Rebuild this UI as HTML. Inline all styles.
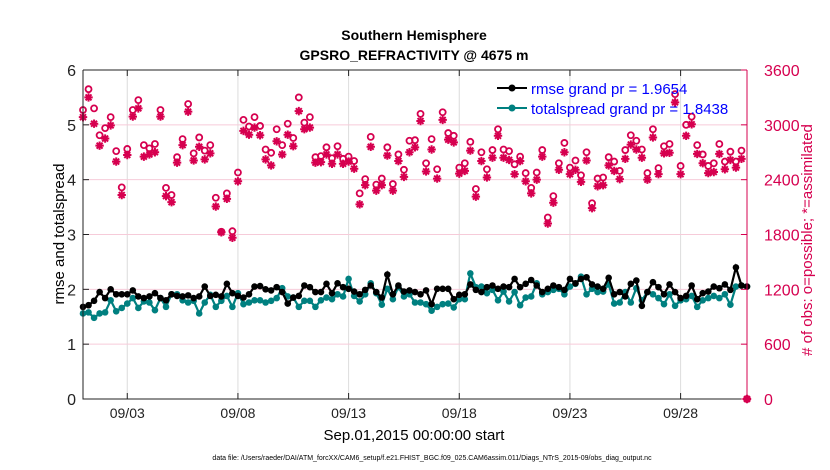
<!DOCTYPE html>
<html><head><meta charset="utf-8">
<style>
html,body{margin:0;padding:0;background:#fff;}
svg{display:block;font-family:"Liberation Sans",Arial,sans-serif;}
</style></head>
<body>
<svg id="chart" width="830" height="470" viewBox="0 0 830 470" xmlns="http://www.w3.org/2000/svg">
<rect width="830" height="470" fill="#fff"/>
<text x="414" y="40" text-anchor="middle" font-size="14" font-weight="bold">Southern Hemisphere</text>
<text x="414" y="60" text-anchor="middle" font-size="14" font-weight="bold">GPSRO_REFRACTIVITY @ 4675 m</text>
<g id="grid"></g>
<g id="marks"></g>
<g id="axes"></g>
<g>
  <line x1="497" y1="88" x2="527" y2="88" stroke="#000" stroke-width="2"/>
  <circle cx="512" cy="88" r="3.5" fill="#000"/>
  <text x="531" y="94" font-size="15" fill="#0000ff">rmse grand pr = 1.9654</text>
  <line x1="497" y1="108" x2="527" y2="108" stroke="#008080" stroke-width="2"/>
  <circle cx="512" cy="108" r="3.5" fill="#008080"/>
  <text x="531" y="114" font-size="15" fill="#0000ff">totalspread grand pr = 1.8438</text>
</g>
<text transform="translate(64,234) rotate(-90)" text-anchor="middle" font-size="15">rmse and totalspread</text>
<text transform="translate(812,240) rotate(-90)" text-anchor="middle" font-size="15" fill="#d6004f"># of obs: o=possible; *=assimilated</text>
<text x="414" y="440" text-anchor="middle" font-size="15">Sep.01,2015 00:00:00 start</text>
<text x="432" y="460" text-anchor="middle" font-size="7">data file: /Users/raeder/DAI/ATM_forcXX/CAM6_setup/f.e21.FHIST_BGC.f09_025.CAM6assim.011/Diags_NTrS_2015-09/obs_diag_output.nc</text>
</svg>
<script>
const xTickLabels = ["09/03","09/08","09/13","09/18","09/23","09/28"];
const xTickDays = [2,7,12,17,22,27];
const leftTicks = [0,1,2,3,4,5,6];
const rightTicks = [0,600,1200,1800,2400,3000,3600];
const rmse = [1.68,1.71,1.79,1.95,1.84,2.0,1.91,1.91,1.91,1.98,1.87,1.84,1.87,1.93,1.84,1.80,1.91,1.88,1.87,1.89,1.84,1.87,2.05,1.88,1.90,1.87,2.10,1.93,1.88,1.85,1.91,2.05,2.06,2.0,1.98,2.04,1.95,1.74,1.85,1.88,2.07,
2.04,1.95,1.95,2.10,1.93,2.11,2.04,2.01,1.96,1.91,1.99,2.07,1.95,1.85,2.27,1.91,2.07,1.96,1.98,1.95,1.91,1.98,1.73,2.01,2.01,2.01,1.82,1.90,1.91,2.09,1.99,1.95,2.04,2.07,2.01,2.05,2.04,2.19,2.04,2.10,
2.17,2.07,1.95,2.01,2.07,2.04,1.99,2.19,2.11,2.19,2.22,2.09,2.05,2.01,2.21,1.91,1.95,1.87,2.10,2.16,1.70,1.95,2.13,2.04,1.91,2.09,1.95,1.84,1.88,2.07,1.82,1.93,1.96,2.05,2.02,2.09,1.99,2.40,2.07,2.05];
const spread = [1.56,1.58,1.48,1.56,1.58,1.80,1.60,1.66,1.74,1.84,1.66,1.78,1.76,1.62,1.84,1.68,1.91,1.91,1.80,1.76,1.79,1.56,1.76,1.90,1.68,1.79,1.88,1.68,1.93,1.73,1.76,1.80,1.80,1.76,1.79,1.84,2.02,1.87,1.85,1.68,1.79,
1.79,1.68,1.80,1.85,1.82,1.91,1.87,2.19,1.88,1.78,1.91,2.11,1.93,1.72,2.01,1.82,2.04,1.87,1.91,1.76,1.76,1.73,1.61,1.68,1.73,1.74,1.67,1.82,1.82,2.29,2.04,2.05,1.93,1.99,1.80,1.96,1.78,1.95,1.71,1.85,
1.87,2.11,1.91,1.95,1.99,2.01,1.91,2.05,2.10,2.23,1.91,2.01,1.95,1.96,2.09,1.74,1.76,1.95,1.76,2.02,1.80,1.95,1.91,1.84,1.73,1.91,1.70,1.80,1.82,1.88,1.68,1.80,1.84,1.88,1.84,1.91,1.72,2.05,2.07,2.05];
const obsPossible = [3162,3390,3180,2886,2964,3084,2712,2316,2736,3162,3270,2778,2742,2790,3162,2310,2232,2646,2844,3228,2688,2862,2718,2778,2202,1830,2250,1836,2478,3054,2982,3084,2988,2730,2694,2952,2778,3012,2856,3300,3024,3084,
2646,2658,2754,2634,2766,2628,2652,2604,2250,2406,2868,2346,2412,2754,2352,2676,2508,2826,2832,3120,2580,2844,2514,3138,2910,2880,2532,2580,2814,2298,2700,2514,2724,2952,2730,2712,2568,2652,2472,2310,2478,
2724,1986,2220,2580,2802,2532,2610,2448,2700,2142,2412,2424,2646,2598,2496,2724,2886,2826,2730,2472,2952,2526,2766,2790,3336,2550,3000,3090,2778,2676,2550,2580,2790,2598,2706,2598,2718,0];
const obsAssim = [3084,3300,3012,2772,2850,2994,2598,2232,2670,3090,3180,2652,2676,2700,3090,2220,2154,2586,2778,3144,2610,2760,2622,2688,2106,1824,2190,1764,2382,2934,2892,2970,2886,2622,2556,2820,2676,2892,2766,3150,2952,2970,
2586,2592,2676,2574,2676,2574,2598,2520,2130,2340,2760,2280,2340,2664,2280,2604,2430,2700,2754,3042,2490,2730,2412,3054,2838,2808,2466,2496,2718,2214,2604,2424,2640,2880,2640,2616,2460,2604,2382,2250,2400,
2652,1920,2148,2508,2700,2460,2508,2376,2610,2088,2328,2340,2556,2496,2406,2628,2784,2730,2640,2400,2862,2460,2688,2694,3246,2460,2880,3006,2682,2580,2472,2484,2682,2514,2616,2532,2628,0];

const NS = "http://www.w3.org/2000/svg";
const X0 = 83, X1 = 747, Y0 = 399, Y1 = 70;
const xScale = d => X0 + (d / 30) * (X1 - X0);
const yLeft = v => Y0 - (v / 6) * (Y0 - Y1);
const yRight = v => Y0 - (v / 3600) * (Y0 - Y1);
const idxDay = i => i * 0.25;
function mk(tag, attrs, parent) {
  const el = document.createElementNS(NS, tag);
  for (const k in attrs) el.setAttribute(k, attrs[k]);
  parent.appendChild(el);
  return el;
}
const grid = document.getElementById('grid');
const marks = document.getElementById('marks');
const axes = document.getElementById('axes');

xTickDays.forEach((d, i) => {
  const l = mk('line', {x1: xScale(d), x2: xScale(d), y1: Y1, y2: Y0, stroke: '#dcdcdc', 'stroke-width': 1}, grid);
  
  
});
rightTicks.forEach(v => {
  if (v === 0 || v === 3600) return;
  const l = mk('line', {x1: X0, x2: X1, y1: yRight(v), y2: yRight(v), stroke: '#f6cbd9', 'stroke-width': 1}, grid);
  
  
});

function asterisk(cx, cy, g) {
  const r = 4.2;
  let d = '';
  for (let k = 0; k < 4; k++) {
    const a = k * Math.PI / 4;
    d += `M${cx - r * Math.cos(a)},${cy - r * Math.sin(a)}L${cx + r * Math.cos(a)},${cy + r * Math.sin(a)}`;
  }
  return mk('path', {d: d, stroke: '#d6004f', 'stroke-width': 2, fill: 'none'}, g);
}
const gA = mk('g', {}, marks);


obsAssim.forEach((v, i) => {
  const p = asterisk(xScale(idxDay(i)), yRight(v), gA);
  
  
});
const gP = mk('g', {}, marks);


obsPossible.forEach((v, i) => {
  const c = mk('circle', {cx: xScale(idxDay(i)), cy: yRight(v), r: 3, fill: 'none', stroke: '#d6004f', 'stroke-width': 1.8}, gP);
  
  
});

function series(vals, color, name) {
  const g = mk('g', {}, marks);
  
  
  const pts = vals.map((v, i) => `${xScale(idxDay(i)).toFixed(1)},${yLeft(v).toFixed(1)}`).join(' ');
  const pl = mk('polyline', {points: pts, fill: 'none', stroke: color, 'stroke-width': 2.2}, g);
  
  
  vals.forEach((v, i) => {
    const c = mk('circle', {cx: xScale(idxDay(i)), cy: yLeft(v), r: 3.3, fill: color}, g);
    
    
  });
}
series(spread, '#008080', 'totalspread-series');
series(rmse, '#000000', 'rmse-series');

const ax = mk('path', {d: `M${X0},${Y1}L${X0},${Y0}L${X1},${Y0}`, stroke: '#222', fill: 'none', 'stroke-width': 1}, axes);


const tl = mk('line', {x1: X0, x2: X1, y1: Y1, y2: Y1, stroke: '#222', 'stroke-width': 1}, axes);


const ra = mk('line', {x1: X1, x2: X1, y1: Y1, y2: Y0, stroke: '#d6004f', 'stroke-width': 1}, axes);


xTickDays.forEach((d, i) => {
  mk('line', {x1: xScale(d), x2: xScale(d), y1: Y0, y2: Y0 - 6, stroke: '#222'}, axes);
  mk('line', {x1: xScale(d), x2: xScale(d), y1: Y1, y2: Y1 + 6, stroke: '#222'}, axes);
  const t = mk('text', {x: xScale(d), y: Y0 + 19, 'text-anchor': 'middle', 'font-size': 14, fill: '#222'}, axes);
  t.textContent = xTickLabels[i];
  
  
});
leftTicks.forEach(v => {
  mk('line', {x1: X0, x2: X0 + 6, y1: yLeft(v), y2: yLeft(v), stroke: '#222'}, axes);
  const t = mk('text', {x: X0 - 7, y: yLeft(v) + 6, 'text-anchor': 'end', 'font-size': 16, fill: '#222'}, axes);
  t.textContent = v;
  
  
});
rightTicks.forEach(v => {
  mk('line', {x1: X1, x2: X1 - 6, y1: yRight(v), y2: yRight(v), stroke: '#d6004f'}, axes);
  const t = mk('text', {x: X1 + 17, y: yRight(v) + 6, 'text-anchor': 'start', 'font-size': 16, fill: '#d6004f'}, axes);
  t.textContent = v;
  
  
});
</script>
</body></html>
